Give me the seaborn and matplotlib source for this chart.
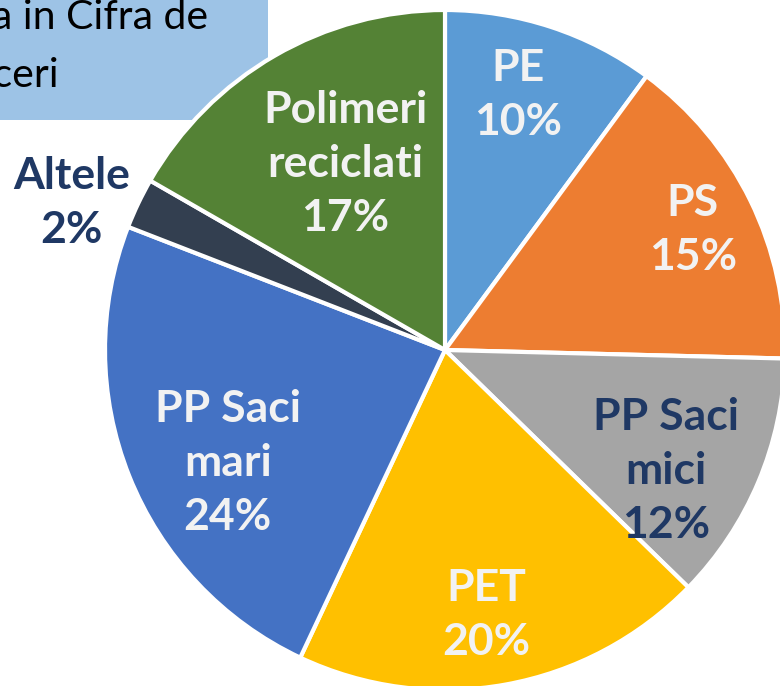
import numpy as np
import matplotlib
matplotlib.use("Agg")
import matplotlib.pyplot as plt
from matplotlib.patches import Rectangle
import seaborn as sns

# share of turnover per material
categories = ["PE", "PS", "PP Saci\nmici", "PET", "PP Saci\nmari", "Altele", "Polimeri\nreciclati"]
shares = [10.1, 15.3, 11.9, 19.7, 23.9, 2.4, 16.7]
pct_labels = ["10%", "15%", "12%", "20%", "24%", "2%", "17%"]
title_lines = ["Ponderea in Cifra de", "Afaceri"]

colors = ["#5B9BD5", "#ED7D31", "#A5A5A5", "#FFC000", "#4472C4", "#333F50", "#548235"]
text_colors = ["#F2F2F2", "#F2F2F2", "#1F3864", "#F2F2F2", "#F2F2F2", "#1F3864", "#F2F2F2"]
# label placement: radial fraction of radius, angle nudge (deg)
label_r = [0.78, 0.81, 0.74, 0.79, 0.72, 1.18, 0.62]
label_da = [2.3, -0.2, -5.8, -1.4, 5.7, 4.1, -1.9]

sns.set_theme(style="white")
plt.rcParams['font.family'] = ['Lato', 'DejaVu Sans']

W, H = 780, 686
fig = plt.figure(figsize=(W / 100, H / 100), dpi=100)
ax = fig.add_axes([0, 0, 1, 1])

cx, cy, R = 445, H - 350, 340

# title box (partly cut off on the left, as in the source)
ax.add_patch(Rectangle((0, H - 120), 268, 120, facecolor="#9DC3E6", edgecolor="none", zorder=0))
ax.text(208, H - 29, title_lines[0], ha="right", va="baseline", fontsize=29.5, color="black", zorder=0.5)
ax.text(60, H - 87, title_lines[1], ha="right", va="baseline", fontsize=29.5, color="black", zorder=0.5)

wedges, _ = ax.pie(shares, colors=colors, startangle=90, counterclock=False,
                   center=(cx, cy), radius=R,
                   wedgeprops=dict(edgecolor="white", linewidth=3))

for i, w in enumerate(wedges):
    w.set_zorder(2)
    mid = np.deg2rad((w.theta1 + w.theta2) / 2 + label_da[i])
    x = cx + label_r[i] * R * np.cos(mid)
    y = cy + label_r[i] * R * np.sin(mid)
    ax.text(x, y, categories[i] + "\n" + pct_labels[i], ha="center", va="center",
            fontsize=32, fontweight="bold", color=text_colors[i],
            linespacing=1.42, zorder=3)

ax.set_xlim(0, W)
ax.set_ylim(0, H)
ax.set_aspect("auto")
ax.axis("off")

fig.savefig("out.png", dpi=100)
